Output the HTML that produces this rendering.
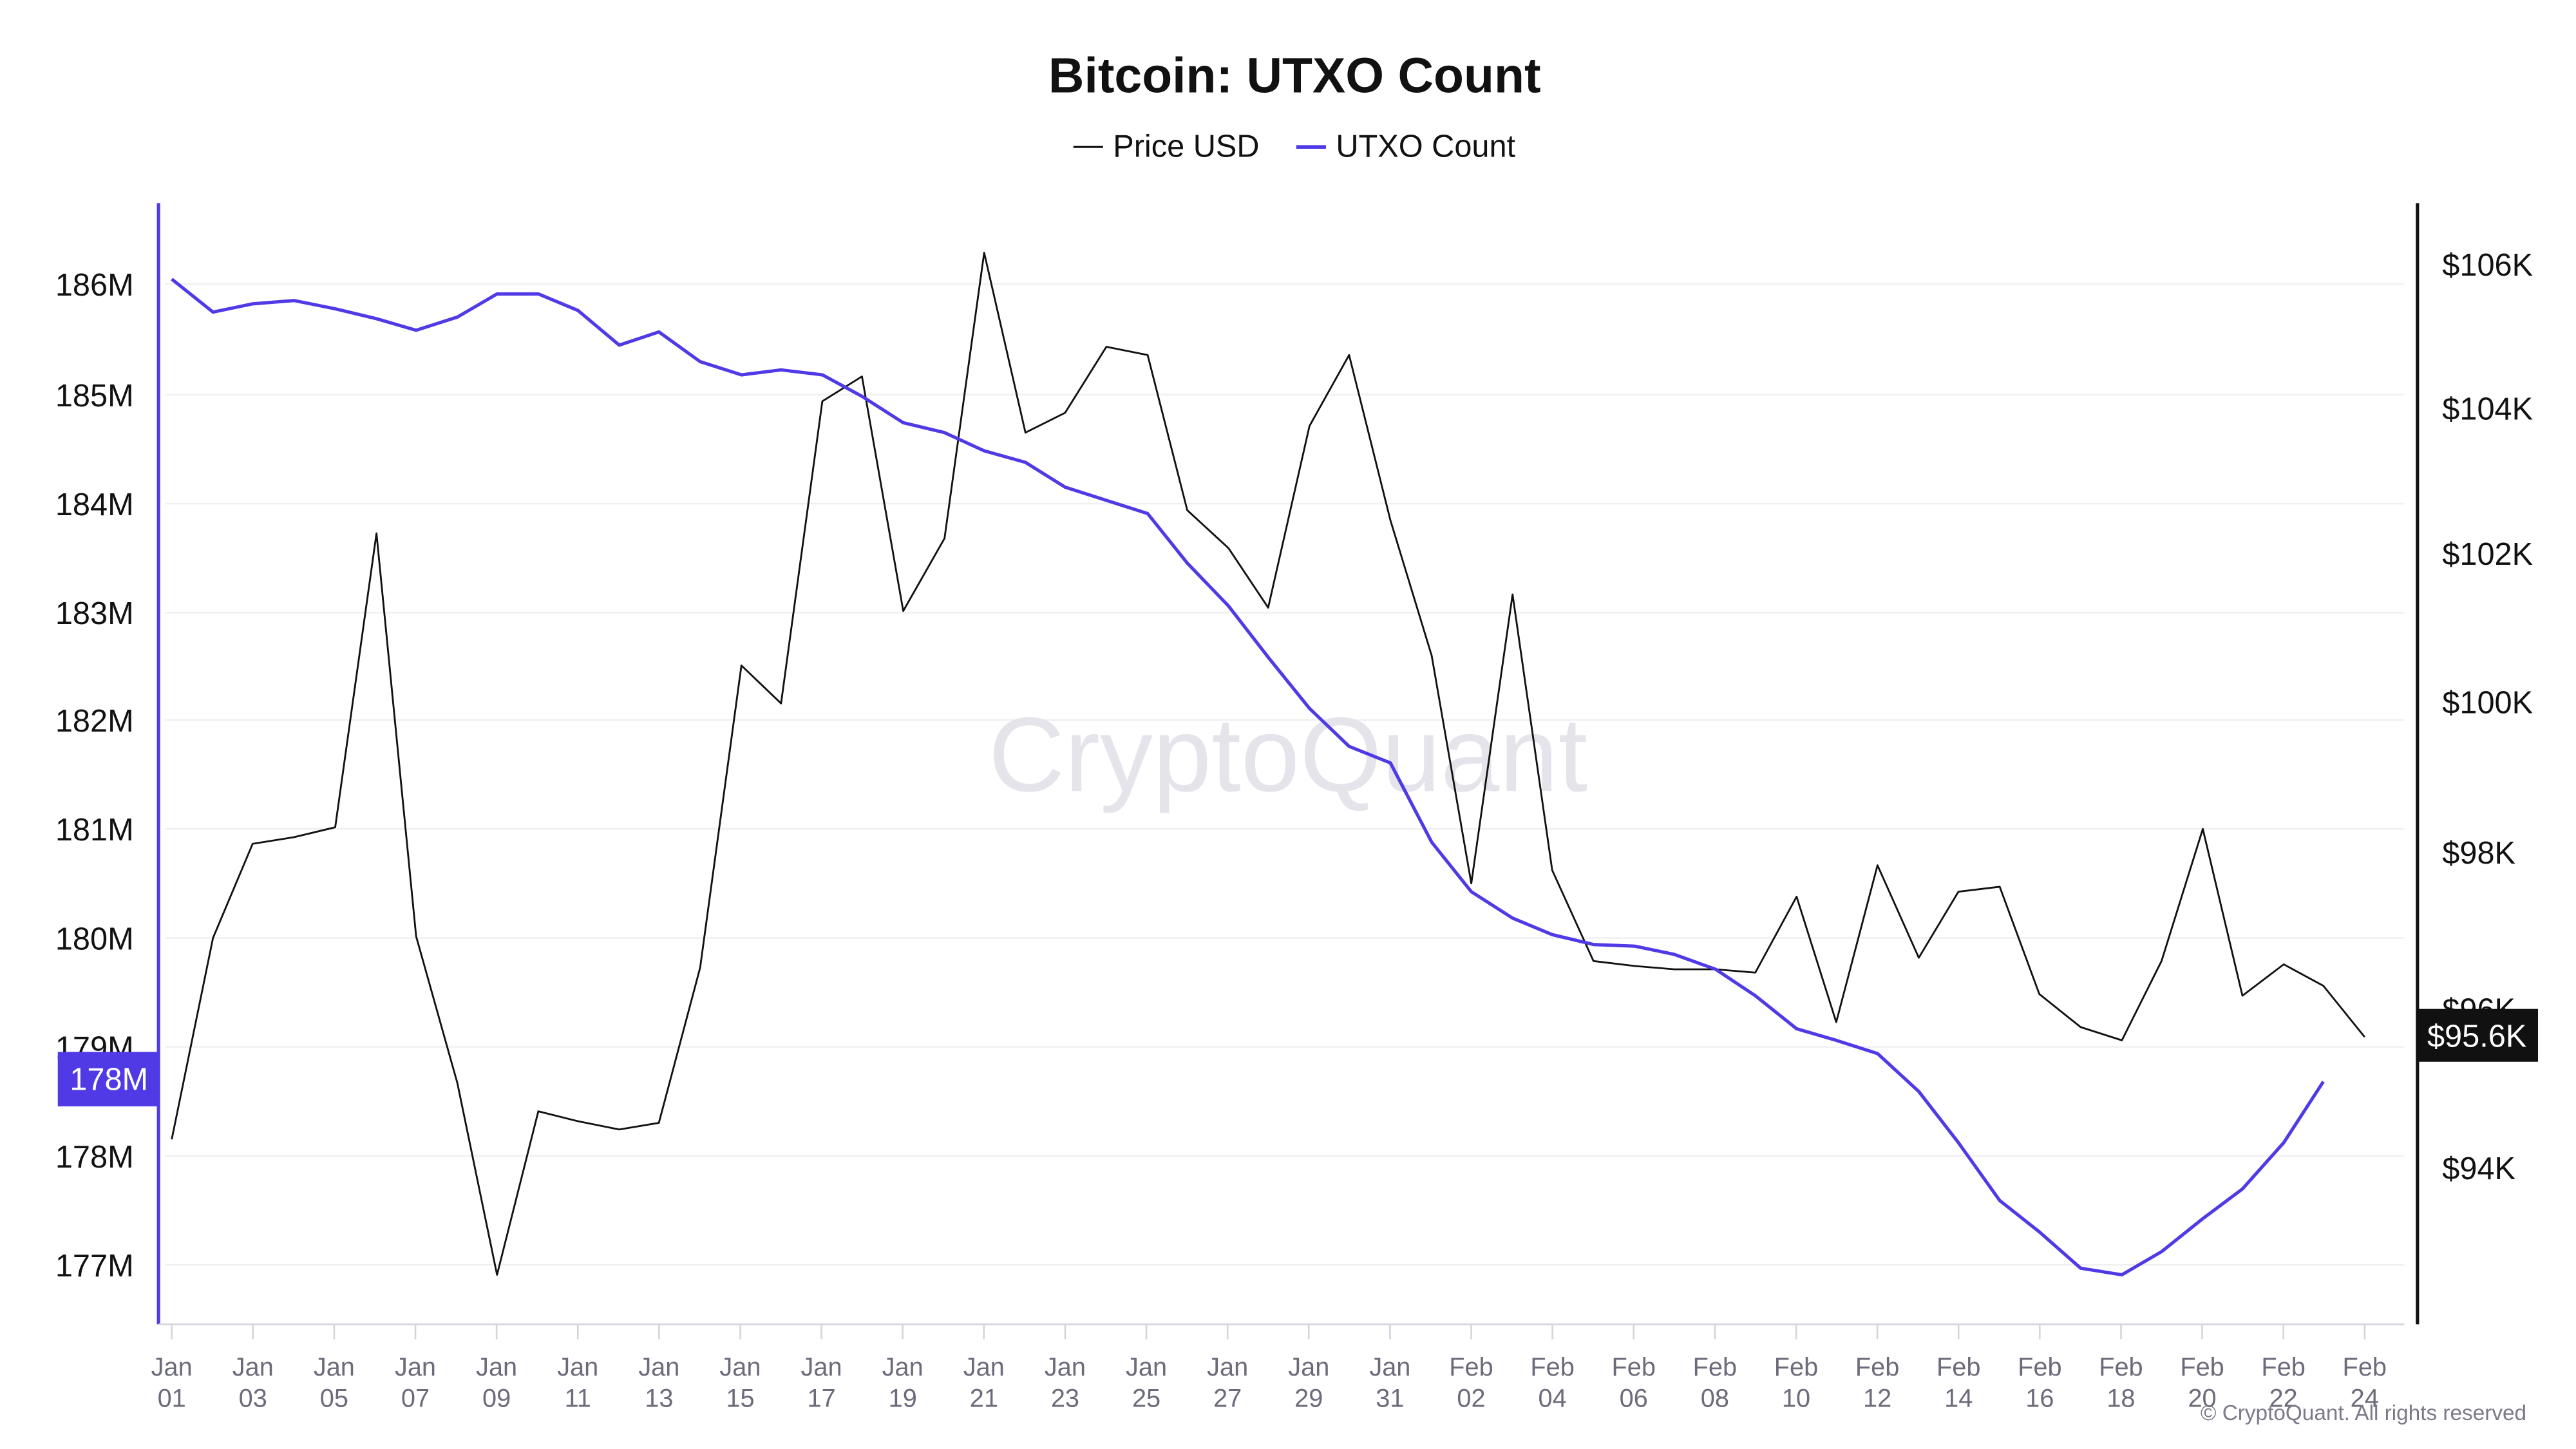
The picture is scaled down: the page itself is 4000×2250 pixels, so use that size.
<!DOCTYPE html>
<html><head><meta charset="utf-8"><style>
html,body{margin:0;padding:0;background:#fff;}
svg{display:block;}
text{font-family:"Liberation Sans",sans-serif;}
</style></head><body>
<svg width="4000" height="2250" viewBox="0 0 1560 877.5" xmlns="http://www.w3.org/2000/svg">
<rect width="1560" height="877.5" fill="#fff"/>
<text x="784" y="56" text-anchor="middle" font-size="30" font-weight="bold" fill="#111">Bitcoin: UTXO Count</text>
<line x1="650" y1="89" x2="668" y2="89" stroke="#111" stroke-width="1.2"/>
<text x="674" y="95" font-size="19" fill="#111">Price USD</text>
<line x1="785" y1="89" x2="803" y2="89" stroke="#4f3ae6" stroke-width="2.2"/>
<text x="809" y="95" font-size="19" fill="#111">UTXO Count</text>
<g stroke="#f0f0f2" stroke-width="1">
<line x1="100" x2="1456" y1="172" y2="172"/><line x1="100" x2="1456" y1="239" y2="239"/>
<line x1="100" x2="1456" y1="305" y2="305"/><line x1="100" x2="1456" y1="371" y2="371"/>
<line x1="100" x2="1456" y1="436" y2="436"/><line x1="100" x2="1456" y1="502" y2="502"/>
<line x1="100" x2="1456" y1="568" y2="568"/><line x1="100" x2="1456" y1="634" y2="634"/>
<line x1="100" x2="1456" y1="700" y2="700"/><line x1="100" x2="1456" y1="766" y2="766"/>
</g>
<text x="780" y="479" text-anchor="middle" font-size="64" fill="#e4e4ea">CryptoQuant</text>
<g font-size="19" fill="#111" text-anchor="end">
<text x="81" y="179">186M</text><text x="81" y="246">185M</text><text x="81" y="312">184M</text>
<text x="81" y="378">183M</text><text x="81" y="443">182M</text><text x="81" y="509">181M</text>
<text x="81" y="575">180M</text><text x="81" y="641">179M</text><text x="81" y="707">178M</text>
<text x="81" y="773">177M</text>
</g>
<g font-size="19" fill="#111">
<text x="1479" y="167">$106K</text><text x="1479" y="254">$104K</text><text x="1479" y="342">$102K</text>
<text x="1479" y="432">$100K</text><text x="1479" y="523">$98K</text><text x="1479" y="618">$96K</text>
<text x="1479" y="714">$94K</text>
</g>
<line x1="96" y1="123" x2="96" y2="802" stroke="#4f3ae6" stroke-width="2"/>
<line x1="1464" y1="123" x2="1464" y2="802" stroke="#111" stroke-width="2"/>
<line x1="96" y1="802" x2="1456" y2="802" stroke="#d4d4dc" stroke-width="1"/>
<g id="ticks" stroke="#d4d4dc" stroke-width="1"></g>
<g id="xl" font-size="15.5" fill="#6b6b7b" text-anchor="middle"></g>
<polyline fill="none" stroke="#111" stroke-width="1.1" stroke-linejoin="round" points="104,690 129,568 153,511 178,507 203,501 228,323 252,567 277,656 301,772 326,673 350,679 375,684 399,680 424,586 449,403 473,426 498,243 522,228 547,370 572,326 596,153 621,262 645,250 670,210 695,215 719,309 744,332 768,368 793,258 817,215 842,315 867,397 891,535 916,360 940,527 965,582 990,585 1014,587 1039,587 1063,589 1088,543 1112,619 1137,524 1162,580 1186,540 1211,537 1235,602 1260,622 1285,630 1309,582 1334,502 1358,603 1383,584 1407,597 1432,628"/>
<polyline fill="none" stroke="#4f3ae6" stroke-width="2" stroke-linejoin="round" points="104,169 129,189 153,184 178,182 203,187 228,193 252,200 277,192 301,178 326,178 350,188 375,209 399,201 424,219 449,227 473,224 498,227 522,240 547,256 572,262 596,273 621,280 645,295 670,303 695,311 719,341 744,367 768,398 793,429 817,452 842,462 867,510 891,540 916,556 940,566 965,572 990,573 1014,578 1039,587 1063,603 1088,623 1112,630 1137,638 1162,661 1186,692 1211,727 1235,746 1260,768 1285,772 1309,758 1334,738 1358,720 1383,692 1407,655"/>
<rect x="35" y="637" width="61" height="33" fill="#4f3ae6"/>
<text x="66" y="660" text-anchor="middle" font-size="19" fill="#fff">178M</text>
<rect x="1464" y="611" width="73" height="32" fill="#111"/>
<text x="1500" y="634" text-anchor="middle" font-size="19" fill="#fff">$95.6K</text>
<text x="1530" y="860" text-anchor="end" font-size="13" fill="#7a7a88">© CryptoQuant. All rights reserved</text>
<script>
(function(){
var ns="http://www.w3.org/2000/svg";
var t=document.getElementById("ticks"),g=document.getElementById("xl");
for(var i=0;i<28;i++){
 var x=104+i*49.185;
 var l=document.createElementNS(ns,"line");
 l.setAttribute("x1",x);l.setAttribute("x2",x);l.setAttribute("y1",802);l.setAttribute("y2",811);t.appendChild(l);
 if(i>=27) {}
 var d=i*2+1, m, dd;
 if(d<=31){m="Jan";dd=d;}else{m="Feb";dd=d-31;}
 if(i>27)continue;
 var s=(dd<10?"0":"")+dd;
 var a=document.createElementNS(ns,"text");a.setAttribute("x",x);a.setAttribute("y",833);a.textContent=m;g.appendChild(a);
 var b=document.createElementNS(ns,"text");b.setAttribute("x",x);b.setAttribute("y",852);b.textContent=s;g.appendChild(b);
}
})();
</script>
</svg>
</body></html>
